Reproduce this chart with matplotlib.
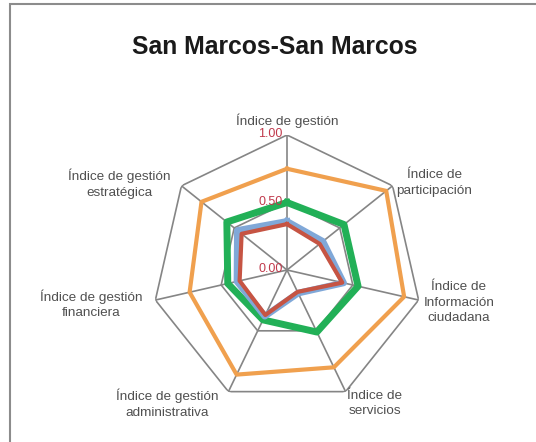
import matplotlib
matplotlib.use("Agg")
import matplotlib.pyplot as plt
import numpy as np
from matplotlib.patches import Rectangle

plt.rcParams['font.family'] = ['Liberation Sans', 'DejaVu Sans']

TITLE = "San Marcos-San Marcos"

categories = [
    "Índice de gestión",
    "Índice de\nparticipación",
    "Índice de\nInformación\nciudadana",
    "Índice de\nservicios",
    "Índice de gestión\nadministrativa",
    "Índice de gestión\nfinanciera",
    "Índice de gestión\nestratégica",
]

# series values
orange_vals = [0.75, 0.94, 0.89, 0.80, 0.86, 0.74, 0.81]
green_vals = [0.50, 0.54, 0.54, 0.51, 0.41, 0.45, 0.57]
blue_vals = [0.36, 0.34, 0.43, 0.19, 0.38, 0.38, 0.47]
red_vals = [0.34, 0.31, 0.42, 0.18, 0.37, 0.36, 0.43]

tick_values = [0.0, 0.5, 1.0]
tick_labels = ["0.00", "0.50", "1.00"]

# label offsets (points) from the outer vertex of each spoke
label_offsets = [(0, 10), (30, 2), (29, -2), (21, -8.6), (-44, -8.6), (-46, -3), (-45, 1.5)]

n = len(categories)
angles = np.arange(n) * 2 * np.pi / n
closed = np.append(angles, angles[0])


def close(vals):
    return np.append(vals, vals[0])


fig = plt.figure(figsize=(5.36, 4.42), dpi=100)
fig.patches.append(Rectangle((10 / 536, -0.05), 1.2, 1.05 - 4 / 442,
                             transform=fig.transFigure, fill=False,
                             edgecolor="#8c8c8c", linewidth=1.5))

ax = fig.add_axes([152 / 536, 37 / 442, 270 / 536, 270 / 442], projection="polar")
ax.set_theta_offset(np.pi / 2)
ax.set_theta_direction(-1)
ax.set_ylim(0, 1.0)
ax.grid(False)
ax.spines["polar"].set_visible(False)
ax.set_xticks([])
ax.set_yticks([])
ax.patch.set_visible(False)

grid_color = "#858585"
for r in [0.5, 1.0]:
    ax.plot(closed, [r] * (n + 1), color=grid_color, lw=1.2, zorder=1)
for a in angles:
    ax.plot([a, a], [0, 1.0], color=grid_color, lw=1.2, zorder=1)

ax.plot(closed, close(orange_vals), color="#F0A04E", lw=3.0, zorder=3)
ax.plot(closed, close(green_vals), color="#22B057", lw=5.0, zorder=4)
ax.plot(closed, close(blue_vals), color="#80A8D8", lw=4.8, zorder=5)
ax.plot(closed, close(red_vals), color="#C65443", lw=3.0, zorder=6)

for v, t in zip(tick_values, tick_labels):
    ax.annotate(t, xy=(0, v), xytext=(-3, 0.5), textcoords="offset points",
                ha="right", va="center", fontsize=9, color="#C0394B", zorder=7)

for a, lab, off in zip(angles, categories, label_offsets):
    ax.annotate(lab, xy=(a, 1.0), xytext=off, textcoords="offset points",
                ha="center", va="center", fontsize=9.7, color="#505050",
                linespacing=1.4, annotation_clip=False)

fig.text(275 / 536, 1 - 47 / 442, TITLE, ha="center", va="center",
         fontsize=17.8, fontweight="bold", color="#1a1a1a")

fig.savefig("out.png", dpi=100)
